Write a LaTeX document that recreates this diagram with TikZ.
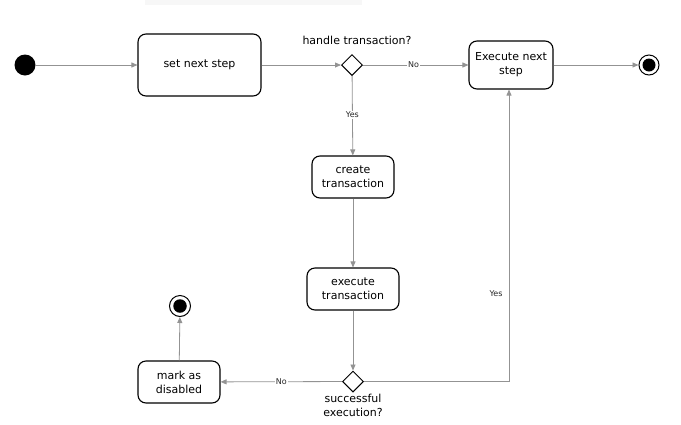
\documentclass[tikz,border=0pt]{standalone}
\usepackage{fontspec}
\setmainfont{DejaVu Sans}
\usetikzlibrary{shapes.geometric,arrows.meta}
\tikzset{
  actbox/.style={draw=black, line width=1.1pt, rounded corners=8pt, align=center, font=\fontsize{11}{14}\selectfont, inner sep=0pt},
  choice/.style={draw=black, line width=1pt, shape=diamond, minimum width=21pt, minimum height=21pt, inner sep=0pt, fill=white},
  flow/.style={draw=gray!85, line width=0.8pt, -{Triangle[length=6pt,width=5pt]}},
  elabel/.style={font=\fontsize{8}{9}\selectfont, fill=white, inner sep=1pt, text=black!85},
  txt/.style={font=\fontsize{11}{14}\selectfont, align=center, inner sep=0pt},
}
\begin{document}
\begin{tikzpicture}[x=1pt,y=-1pt]
\useasboundingbox (0,0) rectangle (681,424);
\fill[black!3] (145,0) rectangle (362,5);
\node[circle, fill=black, minimum size=21pt, inner sep=0pt] (start) at (25,65) {};
\node[actbox, minimum width=123pt, minimum height=62pt] (setnext) at (199.5,65) {set next step};
\node[choice] (d1) at (352,65) {};
\node[txt] (d1lbl) at (357,40) {handle transaction?};
\node[actbox, minimum width=84pt, minimum height=48pt] (execnext) at (511,65) {Execute next\\step};
\node[circle, draw=black, line width=1pt, minimum size=20pt, inner sep=0pt] (end1) at (649,65) {};
\node[circle, fill=black, minimum size=13pt, inner sep=0pt] (end1in) at (649,65) {};
\node[actbox, minimum width=82pt, minimum height=42pt] (create) at (353,177) {create\\transaction};
\node[actbox, minimum width=92pt, minimum height=42pt] (exectx) at (353,289) {execute\\transaction};
\node[choice] (d2) at (353,381.5) {};
\node[txt] (d2lbl) at (353,405.5) {successful\\execution?};
\node[actbox, minimum width=82pt, minimum height=42pt] (mark) at (179,382) {mark as\\disabled};
\node[circle, draw=black, line width=1pt, minimum size=21pt, inner sep=0pt] (end2) at (180,306) {};
\node[circle, fill=black, minimum size=13.5pt, inner sep=0pt] (end2in) at (180,306) {};
\coordinate (corner) at (509,381.5);

\draw[flow] (start) -- (setnext);
\draw[flow] (setnext) -- (d1);
\draw[flow] (d1) -- node[elabel, pos=0.48] (no1) {No} (execnext);
\draw[flow] (execnext) -- (end1);
\draw[flow] (d1) -- node[elabel, pos=0.49] (yes1) {Yes} (create);
\draw[flow] (create) -- (exectx);
\draw[flow] (exectx) -- (d2);
\draw[flow] (d2) -- node[elabel, pos=0.5] (no2) {No} (mark);
\draw[flow] (mark) -- (end2);
\draw[flow] (d2) -- (corner) -- (corner |- execnext.south);
\node[elabel, fill=none] (yes2) at (496,294) {Yes};
\end{tikzpicture}
\end{document}
